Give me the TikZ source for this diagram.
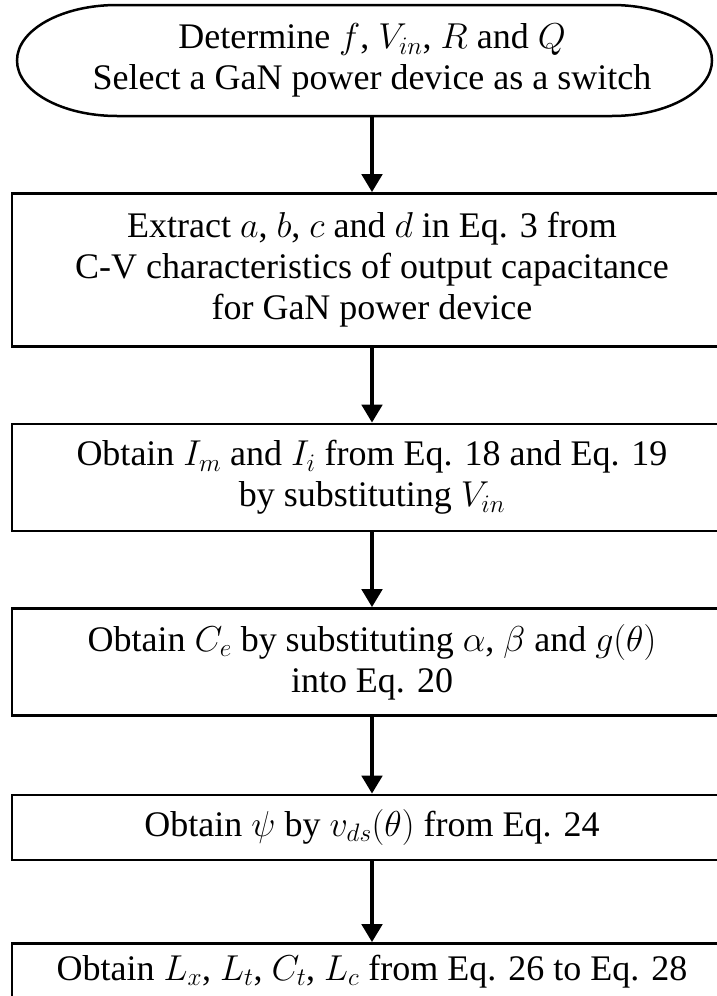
\RequirePackage{fix-cm}
\documentclass[tikz,border=0pt]{standalone}
\usepackage{fontspec}
\setmainfont{Liberation Serif}
\newfontfamily\flowfont{Liberation Serif}
\usepackage{tikz}
\usetikzlibrary{positioning}
\usetikzlibrary{arrows.meta}
\tikzset{
	start node/.style={align=center,font=\flowfont\fontsize{36}{41}\selectfont,
		minimum height=111pt,inner sep=0pt},
	proc box/.style={draw,line width=2.5pt,align=center,font=\flowfont\fontsize{36}{41}\selectfont,
		minimum width=720pt,inner sep=0pt},
	flow/.style={line width=4.5pt}
}

\begin{document}
\begin{tikzpicture}[x=1pt,y=1pt,->,>={Triangle[width=20pt,length=18pt]}]
	\useasboundingbox (0,0) rectangle (716,-996);
	\node [start node] (start) at (372,-60.5) {Determine $f$, $V_{in}$, $R$ and $Q$\\Select a GaN power device as a switch};
	% rounded ends of the start terminal
	\draw [-,line width=2.5pt] ([shift={(-255pt,55.5pt)}]start.center) -- ([shift={(240pt,55.5pt)}]start.center)
		arc[start angle=90,end angle=-90,x radius=100pt,y radius=55.5pt]
		-- ([shift={(-255pt,-55.5pt)}]start.center)
		arc[start angle=270,end angle=90,x radius=100pt,y radius=55.5pt] -- cycle;
	\node [proc box,minimum height=153pt,below=76pt of start] (extract) {Extract $a$, $b$, $c$ and $d$ in Eq. 3 from\\C-V characteristics of output capacitance\\for GaN power device};
	\node [proc box,minimum height=107pt,below=75pt of extract] (current) {Obtain $I_m$ and $I_i$ from Eq. 18 and Eq. 19\\by substituting $V_{in}$};
	\node [proc box,minimum height=107pt,below=75pt of current] (capac) {Obtain $C_e$ by substituting $\alpha$, $\beta$ and $g(\theta)$\\into Eq. 20};
	\node [proc box,minimum height=65pt,below=77pt of capac] (psi) {Obtain $\psi$ by $v_{ds}(\theta)$ from Eq. 24};
	\node [proc box,minimum height=56pt,below=81pt of psi] (result) {Obtain $L_x$, $L_t$, $C_t$, $L_c$ from Eq. 26 to Eq. 28};
	\draw [flow] (start) -- (extract);
	\draw [flow] (extract) -- (current);
	\draw [flow] (current) -- (capac);
	\draw [flow] (capac) -- (psi);
	\draw [flow] (psi) -- (result);
\end{tikzpicture}
\end{document}
